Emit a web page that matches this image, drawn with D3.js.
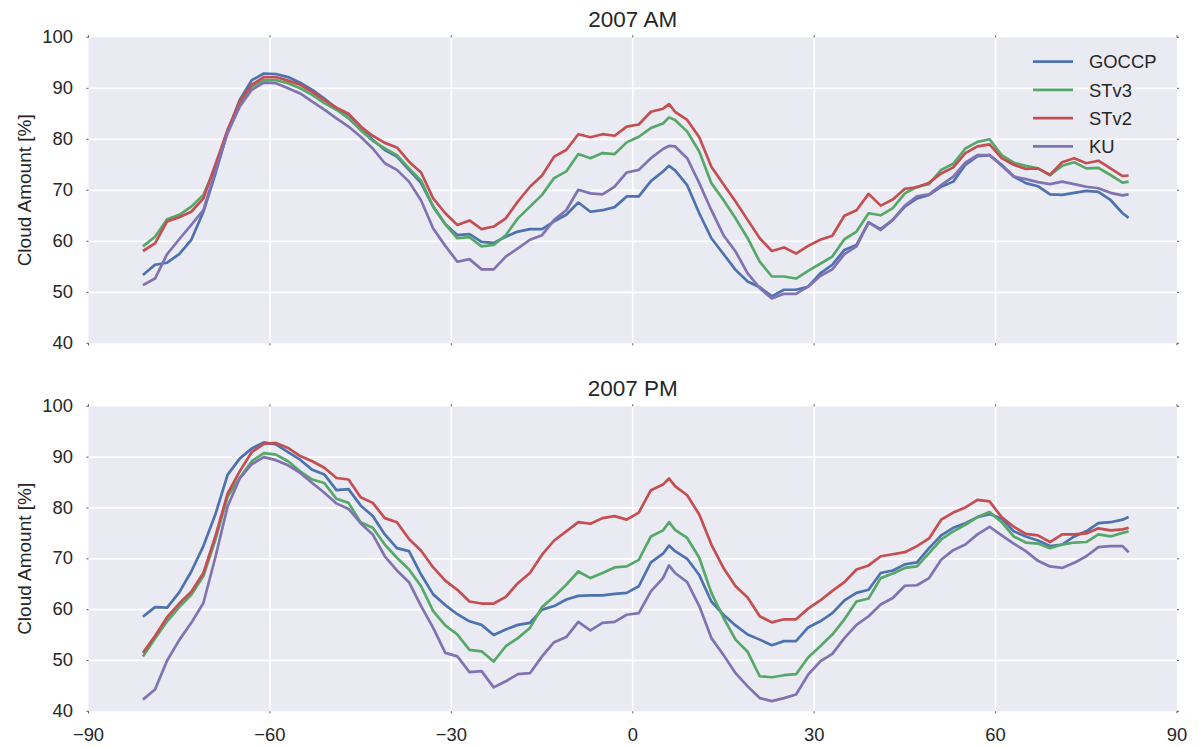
<!DOCTYPE html>
<html><head><meta charset="utf-8">
<script src="https://cdn.jsdelivr.net/npm/d3@7"></script>
<style>
body{margin:0;background:#fff}
svg{display:block}
text{font-family:"Liberation Sans",Arial,sans-serif;fill:#262626}
</style>
</head><body>
<svg id="c" width="1200" height="747"></svg>
<script>
const latitudes = [-81,-79,-77,-75,-73,-71,-69,-67,-65,-63,-61,-59,-57,-55,-53,-51,-49,-47,-45,-43,-41,-39,-37,-35,-33,-31,-29,-27,-25,-23,-21,-19,-17,-15,-13,-11,-9,-7,-5,-3,-1,1,3,5,6,7,9,11,13,15,17,19,21,23,25,27,29,31,33,35,37,39,41,43,45,47,49,51,53,55,57,59,61,63,65,67,69,71,73,75,77,79,81,82];

const amGOCCP = [53.4,55.4,55.8,57.5,60.3,65.8,73.3,81.5,87.7,91.6,92.9,92.8,92.2,91.1,89.7,88.0,86.1,84.8,82.5,79.9,77.9,76.6,74.0,71.4,66.8,63.4,61.2,61.4,59.9,59.7,60.9,61.9,62.4,62.4,63.9,65.2,67.6,65.8,66.1,66.7,68.8,
 68.8,71.8,73.7,74.8,73.9,
 71.0,65.5,60.6,57.5,54.4,52.1,51.0,49.2,50.5,50.5,51.1,53.7,55.4,58.3,59.3,63.7,62.4,64.2,66.8,68.4,69.1,70.7,71.7,75.0,76.7,76.9,75.0,72.7,71.4,70.8,69.2,69.1,69.5,69.9,69.7,68.1,65.5,
 64.6];
const amSTv3 = [59.0,60.9,64.3,65.2,66.8,69.1,74.6,81.8,87.1,90.3,91.6,91.6,91.0,90.0,88.7,87.1,85.8,84.1,81.8,79.7,78.2,76.9,74.3,71.9,66.8,63.3,60.6,60.8,59.0,59.3,61.2,64.5,66.8,69.1,72.4,73.7,77.1,76.3,77.3,77.1,79.4,
 80.5,82.2,83.1,84.3,83.8,
 81.5,77.6,71.4,68.1,64.5,60.6,56.0,53.1,53.1,52.7,54.2,55.6,57.0,60.4,61.9,65.5,65.1,66.5,69.4,70.7,71.2,74.0,75.2,78.2,79.5,80.0,76.9,75.4,74.8,74.3,73.0,74.8,75.5,74.3,74.4,73.0,71.5,
 71.7];
const amSTv2 = [58.1,59.6,63.9,64.7,65.8,68.4,75.1,81.8,87.4,90.7,92.2,92.2,91.5,90.7,89.3,87.7,86.2,85.0,82.5,80.7,79.3,78.4,75.6,73.5,68.4,65.5,63.2,64.1,62.4,62.9,64.5,67.8,70.7,72.9,76.6,77.9,81.0,80.4,81.0,80.7,82.5,
 82.9,85.4,86.0,86.9,85.4,
 83.8,80.4,74.6,71.2,67.8,64.2,60.6,58.1,58.8,57.6,59.1,60.3,61.1,65.0,66.1,69.3,67.0,68.2,70.3,70.6,71.5,73.3,74.5,77.3,78.6,79.0,76.3,75.0,74.2,74.3,73.0,75.5,76.3,75.3,75.8,74.3,72.8,
 72.9];
const amKU = [51.4,52.7,57.5,60.4,63.2,66.1,73.8,81.2,86.4,89.7,91.1,91.0,90.0,89.0,87.4,85.8,84.1,82.5,80.5,78.2,75.3,74.0,71.7,68.0,62.5,59.1,56.0,56.5,54.5,54.5,57.0,58.6,60.3,61.2,64.2,66.1,70.1,69.4,69.2,70.7,73.5,
 74.0,76.3,78.1,78.7,78.6,
 76.3,71.4,66.1,61.2,58.0,53.7,50.8,48.8,49.7,49.7,51.1,53.2,54.5,57.5,59.0,63.7,62.2,64.2,67.0,68.8,69.2,71.0,72.7,75.4,76.9,76.9,74.8,72.7,72.2,71.6,71.2,71.7,71.2,70.7,70.4,69.5,69.0,
 69.2];

const pmGOCCP = [58.6,60.5,60.4,63.4,67.5,72.5,78.8,86.5,89.7,91.7,92.9,92.5,91.0,89.5,87.5,86.6,83.5,83.7,80.5,78.4,74.8,72.1,71.5,66.9,63.0,60.9,59.1,57.7,57.0,55.0,56.1,57.0,57.4,60.0,60.7,62.0,62.7,62.8,62.8,63.1,63.3,
 64.6,69.3,71.0,72.6,71.5,
 70.0,66.8,61.6,59.0,56.9,55.1,54.1,53.0,53.8,53.8,56.5,57.7,59.3,61.8,63.3,63.9,67.2,67.7,68.9,69.3,72.1,74.6,76.1,77.0,78.2,78.8,77.9,75.4,74.4,73.6,72.5,72.8,74.4,75.4,77.0,77.2,77.7,
 78.2];
const pmSTv3 = [50.8,54.3,57.7,60.5,62.9,66.6,73.8,82.2,85.9,89.2,90.8,90.5,89.2,87.2,85.6,84.9,81.8,81.0,77.2,76.1,72.8,70.2,67.9,64.6,59.7,56.9,55.1,52.1,51.8,49.8,52.8,54.4,56.4,60.5,62.6,64.9,67.5,66.2,67.2,68.3,68.5,
 69.8,74.4,75.6,77.2,75.7,
 74.1,70.2,63.3,58.4,54.1,51.7,46.9,46.7,47.1,47.3,50.6,52.8,55.1,58.1,61.6,62.2,66.2,67.1,68.2,68.5,71.1,73.8,75.4,76.7,78.2,79.2,77.2,74.4,73.2,73.0,72.1,72.8,73.2,73.3,74.8,74.4,75.1,
 75.4];
const pmSTv2 = [51.5,54.8,58.5,61.2,63.5,67.2,74.5,82.8,87.2,91.0,92.6,92.8,91.8,90.2,89.2,87.9,85.9,85.6,82.1,81.0,78.0,77.2,73.9,71.6,68.3,65.7,63.9,61.6,61.2,61.2,62.5,65.2,67.2,70.8,73.6,75.4,77.2,76.9,78.0,78.4,77.7,
 79.1,83.5,84.6,85.8,84.3,
 82.5,78.7,72.8,68.2,64.6,62.4,58.7,57.5,58.1,58.1,60.2,61.8,63.7,65.4,67.9,68.7,70.5,70.9,71.3,72.5,74.0,77.7,79.1,80.1,81.6,81.3,78.2,76.3,74.9,74.6,73.3,74.8,74.8,75.0,76.0,75.6,75.8,
 76.1];
const pmKU = [42.3,44.3,50.0,54.0,57.4,61.3,70.4,80.3,85.8,88.6,90.0,89.4,88.4,86.9,84.9,83.0,80.9,79.8,77.0,74.8,70.5,67.7,65.4,60.7,56.4,51.5,50.8,47.7,47.9,44.7,45.9,47.3,47.5,50.8,53.6,54.6,57.6,55.9,57.4,57.6,59.0,
 59.3,63.6,66.2,68.7,67.2,
 65.4,60.7,54.4,51.1,47.5,44.9,42.6,42.0,42.6,43.3,47.2,49.8,51.3,54.4,57.0,58.7,61.0,62.3,64.7,64.8,66.2,69.8,71.7,72.8,74.8,76.3,74.6,73.0,71.5,69.6,68.5,68.2,69.2,70.5,72.3,72.5,72.5,
 71.3];

const seriesNames = ["GOCCP","STv3","STv2","KU"];
const seriesColors = ["#4C72B0","#55A868","#C44E52","#8172B2"];
const panelTitles = ["2007 AM","2007 PM"];
const panelSeries = [[amGOCCP,amSTv3,amSTv2,amKU],[pmGOCCP,pmSTv3,pmSTv2,pmKU]];
const xTicks = [-90,-60,-30,0,30,60,90];
const yTicks = [40,50,60,70,80,90,100];
const yLabel = "Cloud Amount [%]";

const svg = d3.select("#c");
const left = 88.5, right = 1177;
const panels = [{top:37.3,bottom:343.3},{top:406.3,bottom:711.3}];
const x = d3.scaleLinear().domain([-90,90]).range([left,right]);
const fmt = v => v < 0 ? "\u2212" + Math.abs(v) : String(v);

panels.forEach((p, pi) => {
  const y = d3.scaleLinear().domain([40,100]).range([p.bottom,p.top]);
  const g = svg.append("g");
  g.append("rect").attr("x",left).attr("y",p.top).attr("width",right-left).attr("height",p.bottom-p.top).attr("fill","#EAEAF2");
  // grid
  g.append("g").selectAll("line").data(xTicks.slice(1,-1)).join("line")
    .attr("x1",d=>x(d)).attr("x2",d=>x(d)).attr("y1",p.top).attr("y2",p.bottom)
    .attr("stroke","#fff").attr("stroke-width",1.7);
  g.append("g").selectAll("line").data(yTicks.slice(1,-1)).join("line")
    .attr("y1",d=>y(d)).attr("y2",d=>y(d)).attr("x1",left).attr("x2",right)
    .attr("stroke","#fff").attr("stroke-width",1.7);
  // tiny tick marks on all sides
  const tk = g.append("g").attr("stroke","#555").attr("stroke-width",1);
  xTicks.forEach(t => {
    tk.append("line").attr("x1",x(t)).attr("x2",x(t)).attr("y1",p.bottom).attr("y2",p.bottom+2);
    tk.append("line").attr("x1",x(t)).attr("x2",x(t)).attr("y1",p.top-2).attr("y2",p.top);
  });
  yTicks.forEach(t => {
    tk.append("line").attr("x1",left-2).attr("x2",left).attr("y1",y(t)).attr("y2",y(t));
    tk.append("line").attr("x1",right).attr("x2",right+2).attr("y1",y(t)).attr("y2",y(t));
  });
  // y tick labels
  g.append("g").selectAll("text").data(yTicks).join("text")
    .attr("x",left-15.5).attr("y",d=>y(d)+5.6).attr("text-anchor","end")
    .style("font-size","18.4px").text(d=>fmt(d));
  // lines
  const line = d3.line().x((d,i)=>x(latitudes[i])).y(d=>y(d));
  panelSeries[pi].forEach((s, si) => {
    g.append("path").datum(s).attr("d",line).attr("fill","none")
      .attr("stroke",seriesColors[si]).attr("stroke-width",2.7)
      .attr("stroke-linejoin","round").attr("stroke-linecap","butt");
  });
  // title
  g.append("text").attr("x",(left+right)/2).attr("y",p.top-10).attr("text-anchor","middle")
    .style("font-size","22.5px").text(panelTitles[pi]);
  // y label
  g.append("text").attr("transform",`translate(31,${(p.top+p.bottom)/2}) rotate(-90)`)
    .attr("text-anchor","middle").style("font-size","19px").text(yLabel);
  // x tick labels only on bottom panel
  if (pi === 1) {
    g.append("g").selectAll("text").data(xTicks).join("text")
      .attr("x",d=>x(d)).attr("y",p.bottom+29.4).attr("text-anchor","middle")
      .style("font-size","18.4px").text(d=>fmt(d));
  }
  // legend in top panel
  if (pi === 0) {
    const lg = g.append("g");
    seriesNames.forEach((n, i) => {
      const ly = 61.7 + i*28.2;
      lg.append("line").attr("x1",1033).attr("x2",1073).attr("y1",ly).attr("y2",ly)
        .attr("stroke",seriesColors[i]).attr("stroke-width",2.7);
      lg.append("text").attr("x",1089).attr("y",ly+6.6).style("font-size","18.4px").text(n);
    });
  }
});
</script>
</body></html>
